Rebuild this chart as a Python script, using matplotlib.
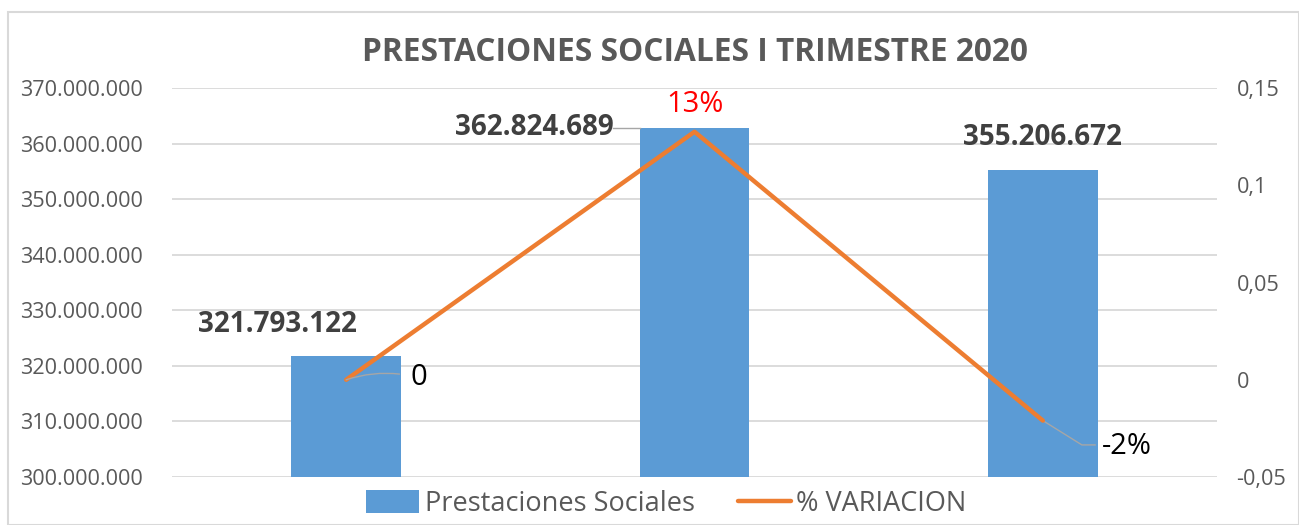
import numpy as np
import matplotlib
matplotlib.use('Agg')
import matplotlib.pyplot as plt
from matplotlib.patches import Rectangle

# data
categorias = ['Enero', 'Febrero', 'Marzo']
prestaciones = [321793122, 362824689, 355206672]
variacion = [0, 0.1275, -0.021]
etiquetas_var = ['0', '13%', '-2%']
ticks_izq = [300000000, 310000000, 320000000, 330000000, 340000000, 350000000, 360000000, 370000000]
ticks_der = [-0.05, 0, 0.05, 0.1, 0.15]

AZUL = '#5b9bd5'
NARANJA = '#ed7d31'
GRIS = '#595959'
GRID = '#d9d9d9'
GUIA = '#a6a6a6'

plt.rcParams['font.family'] = ['Open Sans', 'DejaVu Sans']


def fmt_miles(v):
    return '{:,.0f}'.format(v).replace(',', '.')


def fmt_dec(v):
    if abs(v) < 1e-12:
        return '0'
    return ('%g' % v).replace('.', ',')


fig = plt.figure(figsize=(12.99, 5.25), dpi=100)
fig.patches.append(Rectangle((0.006, 0.0), 0.994, 0.977, transform=fig.transFigure,
                             fill=False, edgecolor='#d9d9d9', linewidth=1.5))
ax = fig.add_axes([0.1324, 0.0914, 0.8045, 0.741])
ax2 = ax.twinx()

x = np.arange(len(categorias))
bars = ax.bar(x, prestaciones, width=0.315, color=AZUL, zorder=2, label='Prestaciones Sociales')
ax.set_ylim(300000000, 370000000)
ax.set_xlim(-0.5, 2.5)
ax.set_yticks(ticks_izq)
ax.set_yticklabels([fmt_miles(t) for t in ticks_izq], fontsize=15.6, color=GRIS)
ax.set_xticks([])
ax.grid(axis='y', color=GRID, linewidth=1.3, zorder=0)
ax.set_axisbelow(True)
for s in ax.spines.values():
    s.set_visible(False)
for s in ax2.spines.values():
    s.set_visible(False)
ax.tick_params(axis='y', length=0, pad=21)

ln, = ax2.plot(x, variacion, color=NARANJA, linewidth=3.2, zorder=3, label='% VARIACION',
               solid_capstyle='round')
ax2.set_ylim(-0.05, 0.15)
ax2.set_yticks(ticks_der)
ax2.set_yticklabels([fmt_dec(t) for t in ticks_der], fontsize=15.6, color=GRIS)
ax2.tick_params(axis='y', length=0, pad=14)
ax.set_zorder(1)
ax2.set_zorder(2)
ax.patch.set_visible(False)

# bar value labels
off_bar = [(-0.198, 5.6e6), (-0.46, 0.15e6), (0.0, 5.8e6)]
for i, v in enumerate(prestaciones):
    dx, dy = off_bar[i]
    ax.text(x[i] + dx, v + dy, fmt_miles(v), ha='center', va='center', fontsize=20,
            fontweight='bold', color='#404040', zorder=5)
ax.plot([x[1] - 0.233, x[1] - 0.157], [prestaciones[1], prestaciones[1]], color=GUIA,
        linewidth=1, zorder=4)

# line value labels
ax2.annotate(etiquetas_var[0], xy=(x[0], variacion[0]), xytext=(x[0] + 0.185, variacion[0] + 0.001),
             fontsize=21, color='black', ha='left', va='center',
             arrowprops=dict(arrowstyle='-', color=GUIA, lw=1,
                             connectionstyle='arc3,rad=0.15', shrinkA=6, shrinkB=0))
ax2.text(x[1], variacion[1] + 0.0138, etiquetas_var[1], fontsize=21, color='red',
         ha='center', va='center')
ax2.plot([x[2], x[2] + 0.112, x[2] + 0.15], [variacion[2], -0.0335, -0.0335],
         color=GUIA, linewidth=1, zorder=2.5)
ax2.text(x[2] + 0.168, -0.0345, etiquetas_var[2], fontsize=21, color='black',
         ha='left', va='center')

fig.text(0.535, 0.90, 'PRESTACIONES SOCIALES I TRIMESTRE 2020', ha='center', va='center',
         fontsize=22.8, fontweight='bold', color=GRIS)

leg = fig.legend([bars, ln], ['Prestaciones Sociales', '% VARIACION'], loc='center',
                 bbox_to_anchor=(0.513, 0.04), ncol=2, frameon=False, fontsize=19.5,
                 labelcolor=GRIS, handlelength=1.95, handleheight=0.9, handletextpad=0.2,
                 columnspacing=1.6, borderpad=0)

fig.savefig('out.png', dpi=100)
